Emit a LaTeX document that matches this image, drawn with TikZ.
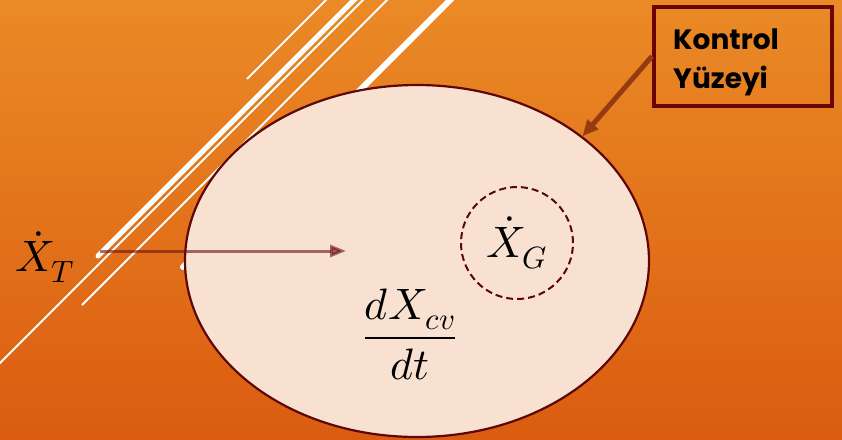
\documentclass[tikz,border=0pt]{standalone}
\usepackage{fontspec}
\usepackage{unicode-math}
\setmathfont{Latin Modern Math}
\newfontfamily\boxfont{Poppins}
\usetikzlibrary{shapes.geometric,arrows.meta}
\definecolor{bgtop}{RGB}{234,138,38}
\definecolor{bgbot}{RGB}{219,92,16}
\definecolor{cvfill}{RGB}{249,225,210}
\definecolor{rim}{RGB}{92,8,8}
\definecolor{boxline}{RGB}{105,5,5}
\definecolor{ptr}{RGB}{150,58,18}
\definecolor{flow}{RGB}{107,15,15}
\tikzset{
  thinwhite/.style={white,line width=2pt},
  thickwhite/.style={white,line width=5pt,line cap=round},
  mathlabel/.style={inner sep=0pt,font=\fontsize{44}{50}\selectfont},
  labelbox/.style={draw=boxline,line width=3.5pt,rectangle},
  labeltext/.style={align=left,inner sep=0pt,text width=140pt,
    font=\boxfont\bfseries\fontsize{28}{39}\selectfont,text=black},
}
\begin{document}
\begin{tikzpicture}[x=1pt,y=-1pt]
\useasboundingbox (0,0) rectangle (842,439);
\shade[top color=bgtop,bottom color=bgbot] (0,0) rectangle (842,439);
% decorative white lines
\draw[thinwhite] (247,79) -- (331,-5);
\draw[thickwhite] (98,256) -- (359,-5);
\draw[thinwhite] (-5,368) -- (368,-5);
\draw[thinwhite] (82,305) -- (392,-5);
\draw[thickwhite,line width=6pt] (183,267) -- (455,-5);
% control volume
\node[ellipse,draw=rim,line width=2.2pt,fill=cvfill,minimum width=464pt,
  minimum height=352pt,inner sep=0pt] (cv) at (417,261) {};
\node[mathlabel] (dxdt) at (410,334) {$\displaystyle\frac{dX_{cv}}{dt}$};
\node[circle,draw=rim,line width=2pt,dash pattern=on 7pt off 4pt,
  minimum size=112pt,inner sep=0pt,font=\fontsize{44}{50}\selectfont] (gen) at (517,243) {$\dot{X}_G$};
% transfer
\node[mathlabel] (xt) at (45,257) {$\dot{X}_T$};
\coordinate (tin) at (100,251);
\coordinate (tend) at (346,251);
\draw[flow,opacity=0.6,line width=3pt,-{Triangle[length=16pt,width=12pt]}] (tin) -- (tend);
% label box
\node[labelbox,anchor=north west,minimum width=178pt,minimum height=99pt] (box) at (652,5) {};
\node[labeltext,anchor=north west] (boxtext) at (673,29) {Kontrol\\Yüzeyi};
\draw[ptr,line width=5pt,-{Triangle[length=16pt,width=14pt]}] (box.west) -- (cv.37);
\end{tikzpicture}
\end{document}
